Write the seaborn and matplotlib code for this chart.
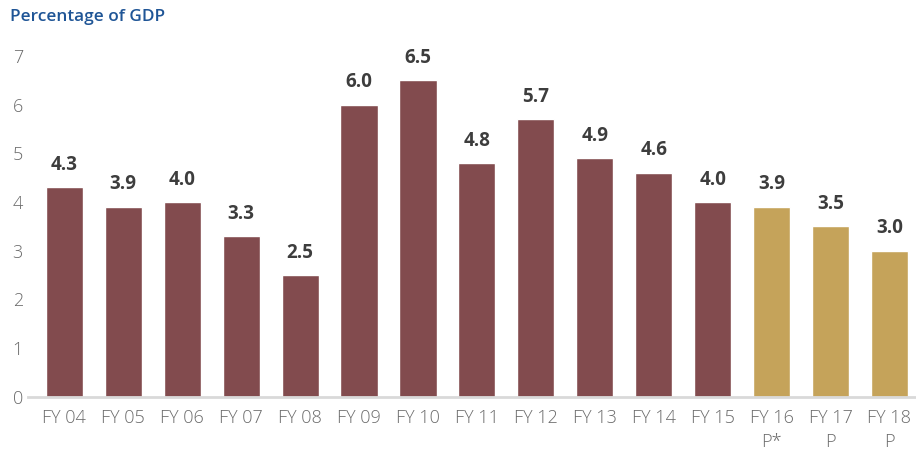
import matplotlib
matplotlib.use("Agg")
import matplotlib.pyplot as plt
import seaborn as sns
import pandas as pd

# Fiscal deficit as a share of GDP, actuals and projections
years = ["FY 04", "FY 05", "FY 06", "FY 07", "FY 08", "FY 09", "FY 10", "FY 11",
         "FY 12", "FY 13", "FY 14", "FY 15", "FY 16\nP*", "FY 17\nP", "FY 18\nP"]
values = [4.3, 3.9, 4.0, 3.3, 2.5, 6.0, 6.5, 4.8, 5.7, 4.9, 4.6, 4.0, 3.9, 3.5, 3.0]
kind = ["Actual"] * 12 + ["Projected"] * 3

palette = {"Actual": "#824b4e", "Projected": "#c5a35a"}

df = pd.DataFrame({"year": years, "value": values, "kind": kind})

sns.set_theme(style="white")
plt.rcParams["font.family"] = ["Open Sans", "DejaVu Sans"]

fig = plt.figure(figsize=(9.16, 4.51), dpi=100)
ax = fig.add_axes([0.031, 0.12, 0.969, 0.756])

sns.barplot(data=df, x="year", y="value", hue="kind", palette=palette,
            dodge=False, width=0.63, legend=False, ax=ax, saturation=1)

for i, v in enumerate(values):
    ax.annotate(f"{v:.1f}", (i, v), xytext=(0, 9), textcoords="offset points",
                ha="center", va="bottom", fontsize=13.5, fontweight="bold",
                color="#3d3d3d", clip_on=False)

ax.set_ylim(0, 7)
ax.set_xlim(-0.61, 14.45)
ax.set_yticks(range(0, 8))
ax.set_xlabel("")
ax.set_ylabel("")
ax.tick_params(axis="both", length=0, labelsize=13, labelcolor="#6b6b6b")
ax.tick_params(axis="y", pad=4)
ax.tick_params(axis="x", pad=9)
for lab in ax.get_xticklabels() + ax.get_yticklabels():
    lab.set_fontweight("light")
for lab in ax.get_xticklabels():
    lab.set_linespacing(1.4)
for s in ["top", "right", "left"]:
    ax.spines[s].set_visible(False)
ax.spines["bottom"].set_color("#d9d9d9")
ax.spines["bottom"].set_linewidth(2)

fig.text(0.011, 0.962, "Percentage of GDP", fontsize=12.4, fontweight="semibold",
         color="#1f5596", ha="left", va="center")

fig.savefig("out.png", dpi=100)
